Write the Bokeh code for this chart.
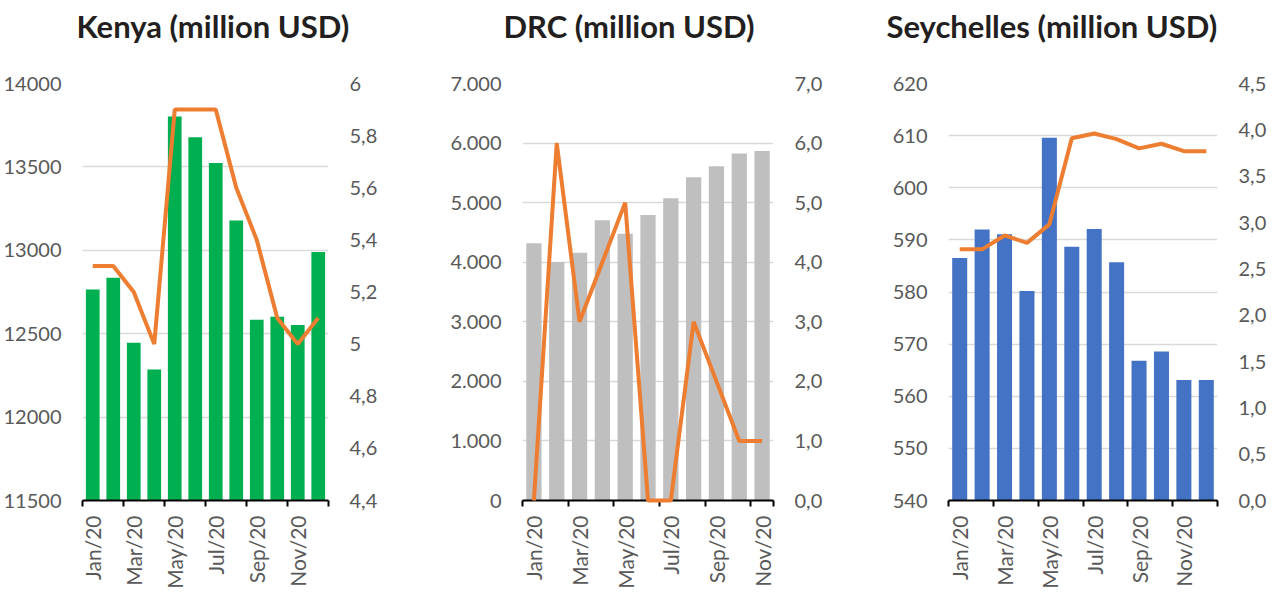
import math
from bokeh.plotting import figure
from bokeh.layouts import row
from bokeh.models import Range1d, LinearAxis, FixedTicker, Title
from bokeh.embed import file_html
from bokeh.resources import INLINE

months = ["Jan/20", "Feb/20", "Mar/20", "Apr/20", "May/20", "Jun/20",
          "Jul/20", "Aug/20", "Sep/20", "Oct/20", "Nov/20", "Dec/20"]

kenya_bars = [12765, 12835, 12446, 12285, 13802, 13678, 13523, 13179, 12584, 12601, 12552, 12990]
kenya_line = [5.3, 5.3, 5.2, 5.0, 5.9, 5.9, 5.9, 5.6, 5.4, 5.1, 5.0, 5.1]

drc_bars = [4318, 4005, 4159, 4706, 4478, 4792, 5072, 5425, 5613, 5825, 5865]
drc_line = [0.0, 6.0, 3.0, 4.0, 5.0, 0.0, 0.0, 3.0, 2.0, 1.0, 1.0]

sey_bars = [586.5, 592.0, 591.1, 580.2, 609.6, 588.7, 592.1, 585.7, 566.8, 568.6, 563.1, 563.1]
sey_line = [2.71, 2.71, 2.86, 2.78, 2.98, 3.91, 3.96, 3.90, 3.80, 3.85, 3.77, 3.77]

kenya_left_ticks = [11500, 12000, 12500, 13000, 13500, 14000]
kenya_right_ticks = [4.4, 4.6, 4.8, 5.0, 5.2, 5.4, 5.6, 5.8, 6.0]
kenya_right_labels = ["4,4", "4,6", "4,8", "5", "5,2", "5,4", "5,6", "5,8", "6"]
drc_left_ticks = [0, 1000, 2000, 3000, 4000, 5000, 6000, 7000]
drc_left_labels = ["0", "1.000", "2.000", "3.000", "4.000", "5.000", "6.000", "7.000"]
drc_right_ticks = [0, 1, 2, 3, 4, 5, 6, 7]
drc_right_labels = ["0,0", "1,0", "2,0", "3,0", "4,0", "5,0", "6,0", "7,0"]
sey_left_ticks = [540, 550, 560, 570, 580, 590, 600, 610, 620]
sey_right_ticks = [0, 0.5, 1, 1.5, 2, 2.5, 3, 3.5, 4, 4.5]
sey_right_labels = ["0,0", "0,5", "1,0", "1,5", "2,0", "2,5", "3,0", "3,5", "4,0", "4,5"]

TICK_FONT = "Lato"
TICK_COLOR = "#595959"
LINE_COLOR = "#ED7D31"


def style_y_axis(ax):
    ax.axis_line_color = None
    ax.major_tick_line_color = None
    ax.minor_tick_line_color = None
    ax.major_tick_in = 0
    ax.major_tick_out = 0
    ax.minor_tick_in = 0
    ax.minor_tick_out = 0
    ax.major_label_standoff = 21
    ax.major_label_text_font = TICK_FONT
    ax.major_label_text_font_size = "20px"
    ax.major_label_text_color = TICK_COLOR


def make_panel(title, bars, line, bar_color, lrange, rrange, lticks, llabels,
               rticks, rlabels, b_left, f_width, b_right, title_offset):
    n = len(bars)
    xs = list(range(n))
    p = figure(frame_width=f_width, frame_height=417,
               min_border_left=b_left, min_border_right=b_right,
               min_border_top=83, min_border_bottom=85,
               x_range=Range1d(-0.5, n - 0.5), y_range=Range1d(*lrange),
               output_backend="svg", toolbar_location=None)
    p.outline_line_color = None
    p.background_fill_color = None
    p.border_fill_color = None

    # a blank second line keeps the title clear of the plot area
    t = Title(text=title + "\n ", text_font="Lato", text_font_style="bold",
              text_font_size="31px", text_color="#231f20", align="left",
              offset=title_offset, standoff=2)
    p.add_layout(t, "above")

    p.extra_y_ranges = {"right": Range1d(*rrange)}

    p.xgrid.grid_line_color = None
    p.ygrid.ticker = FixedTicker(ticks=lticks)
    p.ygrid.grid_line_color = "#d9d9d9"
    p.ygrid.grid_line_width = 1.5

    p.vbar(x=xs, top=bars, bottom=lrange[0], width=0.67, fill_color=bar_color,
           line_color=None)
    p.line(x=xs, y=line, y_range_name="right", line_color=LINE_COLOR,
           line_width=4, level="overlay")

    ya = p.yaxis[0]
    ya.ticker = FixedTicker(ticks=lticks)
    if llabels is not None:
        ya.major_label_overrides = {t: l for t, l in zip(lticks, llabels)}
    style_y_axis(ya)

    ra = LinearAxis(y_range_name="right")
    ra.ticker = FixedTicker(ticks=rticks)
    ra.major_label_overrides = {t: l for t, l in zip(rticks, rlabels)}
    style_y_axis(ra)
    p.add_layout(ra, "right")

    xa = p.below[0]
    label_pos = list(range(0, n, 2))
    bound_pos = [i - 0.5 for i in range(0, n + 1, 2)]
    if n % 2 == 1:
        bound_pos.append(n - 0.5)
    xa.ticker = FixedTicker(ticks=label_pos, minor_ticks=bound_pos)
    xa.major_label_overrides = {i: months[i] for i in label_pos}
    xa.major_label_orientation = math.pi / 2
    xa.major_tick_line_color = None
    xa.major_tick_in = 0
    xa.major_tick_out = 0
    xa.minor_tick_in = 0
    xa.minor_tick_out = 6
    xa.minor_tick_line_color = "black"
    xa.minor_tick_line_width = 2
    xa.axis_line_color = "black"
    xa.axis_line_width = 2
    xa.major_label_standoff = 9
    xa.major_label_text_font = TICK_FONT
    xa.major_label_text_font_size = "21px"
    xa.major_label_text_color = TICK_COLOR
    return p


p1 = make_panel("Kenya (million USD)", kenya_bars, kenya_line, "#00B050",
                (11500, 14000), (4.4, 6.0), kenya_left_ticks, None,
                kenya_right_ticks, kenya_right_labels, 79, 246, 101, -6)
p2 = make_panel("DRC (million USD)", drc_bars, drc_line, "#BFBFBF",
                (0, 7000), (0, 7), drc_left_ticks, drc_left_labels,
                drc_right_ticks, drc_right_labels, 93, 251, 81, -19)
p3 = make_panel("Seychelles (million USD)", sey_bars, sey_line, "#4472C4",
                (540, 620), (0, 4.5), sey_left_ticks, None,
                sey_right_ticks, sey_right_labels, 94, 269, 50, -62)

layout = row(p1, p2, p3, spacing=0)
open("out.html", "w").write(file_html(layout, INLINE))
